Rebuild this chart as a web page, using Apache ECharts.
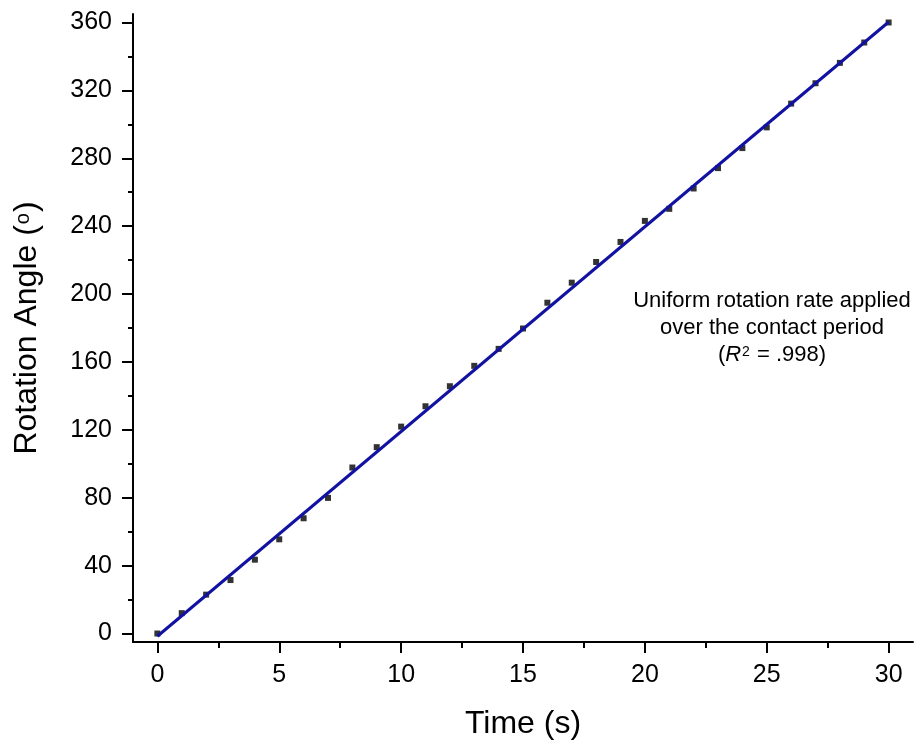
<!DOCTYPE html>
<html>
<head>
<meta charset="utf-8">
<script src="https://cdn.jsdelivr.net/npm/echarts@6/dist/echarts.min.js"></script>
<style>
    html, body { margin: 0; padding: 0; background: #fff; }
    #rotation-chart { width: 919px; height: 742px; }
</style>
</head>
<body>
<div id="rotation-chart"></div>
<script>
/* Measured rotation angle per second. */
let times = [0, 1, 2, 3, 4, 5, 6, 7, 8, 9, 10, 11, 12, 13, 14, 15, 16, 17, 18, 19, 20, 21, 22, 23, 24, 25, 26, 27, 28, 29, 30];
let angles = [0, 12.0, 22.9, 31.5, 43.5, 55.5, 67.9, 79.9, 97.8, 109.8, 121.9, 133.9, 145.7, 157.7, 167.7, 179.7,
    194.9, 206.7, 218.9, 230.7, 243.1, 250.2, 262.2, 274.2, 286.0, 298.2, 312.2, 324.2, 336.2, 348.2, 360.0];

/* Linear fit end points. */
let fitTimes = [0, 30];
let fitAngles = [-1.6, 360.3];

/* Tick positions. */
let xMajorTicks = [0, 5, 10, 15, 20, 25, 30];
let xMinorTicks = [2.5, 7.5, 12.5, 17.5, 22.5, 27.5];
let yMajorTicks = [0, 40, 80, 120, 160, 200, 240, 280, 320, 360];
let yMinorTicks = [20, 60, 100, 140, 180, 220, 260, 300, 340];

const FONT = "'Liberation Sans', Arial, sans-serif";
const AXIS_LINE = { show: true, onZero: false, lineStyle: { color: '#000', width: 2 } };
const NO_LINE = { show: false, onZero: false };

let chart = echarts.init(document.getElementById('rotation-chart'));

let option = {
    animation: false,
    backgroundColor: '#fff',
    textStyle: { fontFamily: FONT, color: '#000' },
    grid: {
        left: 133,
        right: 6,
        top: 14,
        bottom: 100,
        containLabel: false,
        outerBoundsMode: 'none'
    },
    xAxis: [
        {
            type: 'value',
            min: -1,
            max: 31,
            position: 'bottom',
            name: 'Time (s)',
            nameLocation: 'middle',
            nameGap: 66,
            nameTextStyle: { fontSize: 32, fontFamily: FONT, color: '#000' },
            axisLine: AXIS_LINE,
            axisTick: {
                show: true,
                length: 11,
                customValues: xMajorTicks,
                lineStyle: { color: '#000', width: 2 }
            },
            axisLabel: {
                customValues: xMajorTicks,
                fontSize: 25,
                margin: 21,
                color: '#000',
                fontFamily: FONT
            },
            splitLine: { show: false }
        },
        {
            type: 'value',
            min: -1,
            max: 31,
            position: 'bottom',
            axisLine: NO_LINE,
            axisTick: {
                show: true,
                length: 6,
                customValues: xMinorTicks,
                lineStyle: { color: '#000', width: 2 }
            },
            axisLabel: { show: false },
            splitLine: { show: false }
        }
    ],
    yAxis: [
        {
            type: 'value',
            min: -5,
            max: 365,
            position: 'left',
            name: 'Rotation Angle ({sup|o})',
            nameLocation: 'middle',
            nameRotate: 90,
            nameGap: 90,
            nameTextStyle: {
                fontSize: 32,
                fontFamily: FONT,
                color: '#000',
                rich: {
                    sup: { fontSize: 20, fontFamily: FONT, color: '#000', verticalAlign: 'top', padding: [2, 1, 0, 1] }
                }
            },
            axisLine: AXIS_LINE,
            axisTick: {
                show: true,
                length: 11,
                customValues: yMajorTicks,
                lineStyle: { color: '#000', width: 2 }
            },
            axisLabel: {
                customValues: yMajorTicks,
                fontSize: 25,
                margin: 21,
                color: '#000',
                fontFamily: FONT
            },
            splitLine: { show: false }
        },
        {
            type: 'value',
            min: -5,
            max: 365,
            position: 'left',
            axisLine: NO_LINE,
            axisTick: {
                show: true,
                length: 5,
                customValues: yMinorTicks,
                lineStyle: { color: '#000', width: 2 }
            },
            axisLabel: { show: false },
            splitLine: { show: false }
        }
    ],
    graphic: [
        {
            type: 'text',
            x: 772,
            y: 287,
            style: {
                text: 'Uniform rotation rate applied\nover the contact period\n({i|R}{sup|2} = .998)',
                font: '22px ' + FONT,
                fill: '#000',
                align: 'center',
                verticalAlign: 'top',
                lineHeight: 27,
                rich: {
                    i: { fontStyle: 'italic', fontSize: 22, fontFamily: FONT, lineHeight: 27 },
                    sup: { fontSize: 14, fontFamily: FONT, lineHeight: 14, verticalAlign: 'top', padding: [4, 1, 0, 1] }
                }
            }
        }
    ],
    series: [
        {
            name: 'Data',
            type: 'scatter',
            xAxisIndex: 0,
            yAxisIndex: 0,
            symbol: 'rect',
            symbolSize: 6,
            itemStyle: { color: '#000' },
            data: times.map((t, i) => [t, angles[i]]),
            z: 2
        },
        {
            name: 'Fit',
            type: 'line',
            xAxisIndex: 0,
            yAxisIndex: 0,
            showSymbol: false,
            lineStyle: { color: '#1212a2', width: 3 },
            data: fitTimes.map((t, i) => [t, fitAngles[i]]),
            z: 3
        }
    ]
};
chart.setOption(option);

window.addEventListener('resize', function () {
    chart.resize();
});
</script>
</body>
</html>
